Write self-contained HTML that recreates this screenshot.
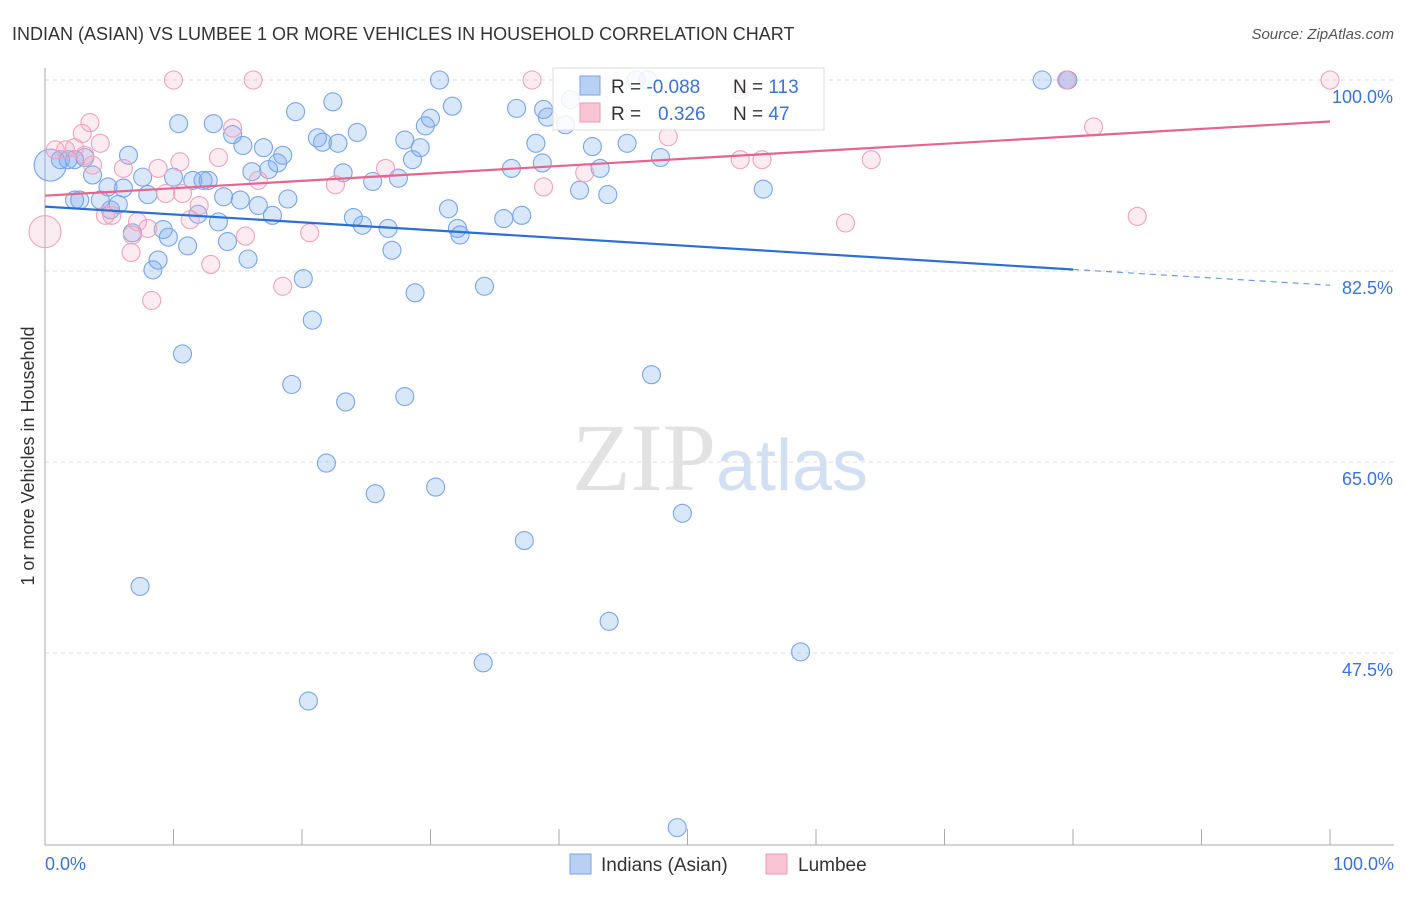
<!DOCTYPE html>
<html><head><meta charset="utf-8"><style>
body{margin:0;background:#fff;font-family:"Liberation Sans",sans-serif}
</style></head><body>
<svg width="1406" height="892" xmlns="http://www.w3.org/2000/svg" font-family="Liberation Sans, sans-serif">
<text x="12" y="40" font-size="18" fill="#333">INDIAN (ASIAN) VS LUMBEE 1 OR MORE VEHICLES IN HOUSEHOLD CORRELATION CHART</text>
<text x="1394" y="39" font-size="15" fill="#555" text-anchor="end" font-style="italic">Source: ZipAtlas.com</text>
<text x="720" y="490" font-size="96" text-anchor="middle" fill="#e2e2e2" font-family="Liberation Serif, serif">ZIP<tspan fill="#d3e0f3" font-family="Liberation Sans, sans-serif" font-size="72">atlas</tspan></text>
<g id="grid"></g>
<line x1="45" y1="68" x2="45" y2="845" stroke="#aaa"/>
<line x1="45" y1="845" x2="1394" y2="845" stroke="#aaa"/>
<text transform="translate(34,456) rotate(-90)" font-size="18" fill="#333" text-anchor="middle">1 or more Vehicles in Household</text>
<text x="45" y="870" font-size="18" fill="#3b72d9">0.0%</text>
<text x="1394" y="870" font-size="18" fill="#3b72d9" text-anchor="end">100.0%</text>
<g id="pts"></g>
<g id="lines"></g>
<g>
<rect x="553" y="68" width="271" height="62" fill="#fff" fill-opacity="0.85" stroke="#ddd"/>
<rect x="580" y="76" width="20" height="19" fill="#b8d0f4" stroke="#7aa3e6"/>
<rect x="580" y="103" width="20" height="19" fill="#f9c5d4" stroke="#ec9ab3"/>
<text x="611" y="93" font-size="19" fill="#333">R = <tspan fill="#3b72d9">-0.088</tspan></text>
<text x="733" y="93" font-size="19" fill="#333">N = <tspan fill="#3b72d9">113</tspan></text>
<text x="611" y="120" font-size="19" fill="#333">R = <tspan fill="#3b72d9" x="658">0.326</tspan></text>
<text x="733" y="120" font-size="19" fill="#333">N = <tspan fill="#3b72d9">47</tspan></text>
</g>
<g>
<rect x="570" y="854" width="21" height="20" fill="#b8d0f4" stroke="#7aa3e6"/>
<text x="601" y="871" font-size="19" fill="#333">Indians (Asian)</text>
<rect x="766" y="854" width="21" height="20" fill="#f9c5d4" stroke="#ec9ab3"/>
<text x="798" y="871" font-size="19" fill="#333">Lumbee</text>
</g>
</svg>
<script>
const yTicks=[100,82.5,65,47.5];
const yTickLabels=["100.0%","82.5%","65.0%","47.5%"];
const xTicks=[0,10,20,30,40,50,60,70,80,90,100];
const blueX=[0.4,1.2,1.8,2.3,3.1,2.7,2.3,4.3,5.7,5.1,3.7,4.9,6.1,6.5,7.6,8.0,6.8,9.2,9.6,8.4,8.8,10.4,10.0,11.1,10.7,7.4,11.5,12.3,12.7,11.9,13.1,13.5,13.9,14.2,14.6,15.2,15.4,15.8,16.1,16.6,17.0,17.4,17.7,18.1,18.5,18.9,19.5,20.1,20.8,19.2,21.2,21.6,22.4,22.8,23.2,24.0,24.3,24.7,25.5,26.7,27.0,27.5,28.0,28.6,29.2,28.8,28.0,23.4,21.9,25.7,30.4,29.6,30.0,30.7,31.7,31.4,32.1,32.3,34.2,35.7,36.3,36.7,37.1,38.2,38.8,39.1,38.7,40.5,40.9,41.6,42.6,43.2,43.8,45.3,46.0,46.9,47.9,47.2,49.6,37.3,43.9,34.1,20.5,49.2,55.9,58.8,77.6,79.5,79.6];
const blueY=[92.2,92.7,92.7,92.7,92.9,89.0,89.0,89.0,88.6,88.1,91.3,90.2,90.1,93.1,91.1,89.5,86.0,86.3,85.6,82.6,83.5,96.0,91.1,84.8,74.9,53.6,90.8,90.8,90.8,87.7,96.0,87.0,89.3,85.2,95.0,89.0,94.0,83.6,91.6,88.5,93.8,91.8,87.6,92.4,93.1,89.1,97.1,81.8,78.0,72.1,94.7,94.3,98.0,94.2,91.5,87.4,95.2,86.7,90.7,86.4,84.4,91.0,94.5,92.7,93.8,80.5,71.0,70.5,64.9,62.1,62.7,95.8,96.5,100,97.6,88.2,86.4,85.8,81.1,87.3,91.9,97.4,87.6,94.2,97.3,96.6,92.4,95.9,98.2,89.9,93.9,91.9,89.5,94.2,100,100,92.9,73.0,60.3,57.8,50.4,46.6,43.1,31.5,90.0,47.6,100,100,100];
const pinkX=[0,0.8,1.6,2.3,3.1,3.5,3.7,4.3,2.9,4.7,5.2,6.1,6.7,6.8,7.2,8.0,8.3,8.8,9.4,10.0,10.5,10.7,11.3,12.0,12.9,13.5,14.6,15.6,16.2,16.6,18.5,20.6,22.6,26.5,37.9,38.8,42.0,48.5,54.1,54.1,55.8,62.3,64.3,79.5,81.6,85.0,100];
const pinkY=[86.1,93.6,93.6,93.8,93.1,96.1,92.2,94.2,95.1,87.6,87.6,91.9,84.2,85.8,87.0,86.4,79.8,91.9,89.6,100,92.5,89.6,87.2,88.5,83.1,92.9,95.6,85.7,100,90.8,81.1,86.0,90.4,91.9,100,90.2,91.5,94.8,99.1,92.7,92.7,86.9,92.7,100,95.7,87.5,100];
const blueTrend=[88.4,81.2];
const pinkTrend=[89.4,96.2];
const NS="http://www.w3.org/2000/svg";
const xs=v=>45+v*12.85;
const ys=v=>80+(100-v)*(191/17.5);
function mk(t,a,p){const e=document.createElementNS(NS,t);for(const k in a)e.setAttribute(k,a[k]);p.appendChild(e);return e;}
const grid=document.getElementById('grid');
yTicks.forEach((t,i)=>{
 const l=mk('line',{x1:45,x2:1394,y1:ys(t),y2:ys(t),stroke:'#ddd','stroke-dasharray':'4,4'},grid);
 
 
 const tx=mk('text',{x:1393,y:ys(t)+23,'font-size':18,fill:'#3b72d9','text-anchor':'end'},grid);
 tx.textContent=yTickLabels[i];
 
 
});
xTicks.forEach(t=>{
 const l=mk('line',{x1:xs(t),x2:xs(t),y1:829,y2:845,stroke:'#aaa'},grid);
 
 
});
const pts=document.getElementById('pts');
blueX.forEach((x,i)=>{
 const c=mk('circle',{cx:xs(x),cy:ys(blueY[i]),r:i==0?16:9,fill:'rgba(120,168,238,0.28)',stroke:'#78a5e8','stroke-width':1.1},pts);
 
 
});
pinkX.forEach((x,i)=>{
 const c=mk('circle',{cx:xs(x),cy:ys(pinkY[i]),r:i==0?16:9,fill:'rgba(245,165,195,0.22)',stroke:'#eea3ba','stroke-width':1.1},pts);
 
 
});
const lines=document.getElementById('lines');
const bAt=x=>blueTrend[0]+(blueTrend[1]-blueTrend[0])*x/100;
let l1=mk('line',{x1:xs(0),y1:ys(bAt(0)),x2:xs(80),y2:ys(bAt(80)),stroke:'#2b6fd6','stroke-width':2.2},lines);


let l2=mk('line',{x1:xs(80),y1:ys(bAt(80)),x2:xs(100),y2:ys(bAt(100)),stroke:'#6a9be3','stroke-width':1.2,'stroke-dasharray':'6,5'},lines);


let l3=mk('line',{x1:xs(0),y1:ys(pinkTrend[0]),x2:xs(100),y2:ys(pinkTrend[1]),stroke:'#e5658e','stroke-width':2.2},lines);


</script>
</body></html>
